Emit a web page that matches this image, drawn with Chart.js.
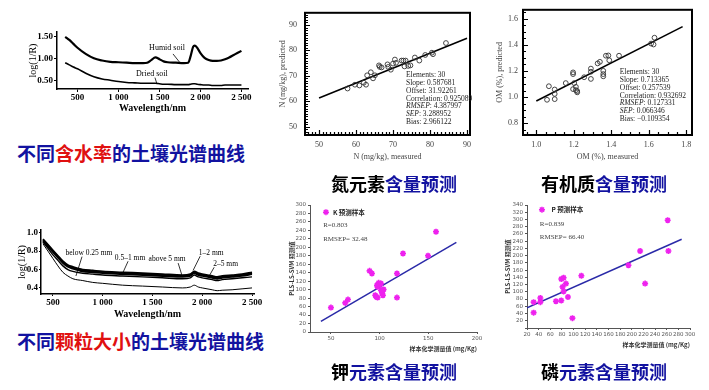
<!DOCTYPE html>
<html>
<head>
<meta charset="utf-8">
<script src="https://cdn.jsdelivr.net/npm/chart.js@4.4.0/dist/chart.umd.min.js"></script>
<style>
  body { margin: 0; background: #fff; width: 709px; height: 390px; position: relative; overflow: hidden; }
  canvas { position: absolute; }
  .cap { position: absolute; font-family: "Noto Sans CJK SC", sans-serif; font-weight: 700; white-space: nowrap; line-height: 1; }
  .blue { color: #1212a0; }
  .red { color: #e01010; }
  .blk { color: #000; }
</style>
</head>
<body>
<canvas id="moist" width="260" height="100" style="left:0;top:20px"></canvas>
<canvas id="nchart" width="210" height="165" style="left:270px;top:0"></canvas>
<canvas id="omchart" width="215" height="165" style="left:490px;top:0"></canvas>
<canvas id="size" width="265" height="110" style="left:0;top:215px"></canvas>
<canvas id="kchart" width="210" height="165" style="left:280px;top:195px"></canvas>
<canvas id="pchart" width="210" height="160" style="left:495px;top:195px"></canvas>

<div class="cap" style="left:17px;top:143px;font-size:19px"><span class="blue">不同</span><span class="red">含水率</span><span class="blue">的土壤光谱曲线</span></div>
<div class="cap" style="left:331px;top:174px;font-size:18px"><span class="blk">氮元素</span><span class="blue">含量预测</span></div>
<div class="cap" style="left:541px;top:174px;font-size:18px"><span class="blk">有机质</span><span class="blue">含量预测</span></div>
<div class="cap" style="left:17px;top:331px;font-size:19px"><span class="blue">不同</span><span class="red">颗粒大小</span><span class="blue">的土壤光谱曲线</span></div>
<div class="cap" style="left:331px;top:362px;font-size:18px"><span class="blk">钾</span><span class="blue">元素含量预测</span></div>
<div class="cap" style="left:541px;top:362px;font-size:18px"><span class="blk">磷</span><span class="blue">元素含量预测</span></div>

<script>
// ---- spectra, soil moisture ----
const moistWl = [350,400,450,500,600,700,800,900,1000,1100,1200,1300,1350,1400,1450,1500,1550,1600,1700,1800,1850,1880,1910,1930,1960,2000,2050,2100,2150,2200,2250,2300,2350,2400,2450,2500];
const humidSoil = [1.49,1.42,1.33,1.24,1.10,1.00,0.95,0.92,0.91,0.90,0.89,0.89,0.90,0.96,1.02,0.98,0.93,0.91,0.90,0.89,0.90,1.05,1.26,1.29,1.24,1.12,1.01,0.96,0.94,0.94,0.95,0.98,1.02,1.07,1.12,1.17];
const driedSoil = [0.90,0.85,0.80,0.76,0.66,0.58,0.53,0.50,0.47,0.45,0.44,0.43,0.43,0.43,0.43,0.42,0.41,0.41,0.40,0.40,0.40,0.41,0.42,0.42,0.41,0.40,0.39,0.39,0.38,0.38,0.38,0.39,0.39,0.39,0.39,0.39];

// ---- spectra, particle size ----
const sizeWl = [400,450,500,550,600,650,700,800,900,1000,1200,1400,1600,1800,1880,1920,1960,2000,2100,2150,2200,2300,2400,2500];
const size12 = [0.93,0.87,0.81,0.75,0.69,0.65,0.63,0.60,0.59,0.58,0.57,0.56,0.55,0.54,0.55,0.58,0.56,0.55,0.53,0.52,0.53,0.54,0.55,0.57];
const size25 = [0.92,0.86,0.80,0.74,0.68,0.64,0.62,0.59,0.58,0.57,0.56,0.55,0.54,0.53,0.54,0.57,0.55,0.54,0.52,0.51,0.52,0.53,0.54,0.56];
const size5 = [0.91,0.85,0.79,0.73,0.67,0.63,0.61,0.58,0.57,0.56,0.55,0.54,0.53,0.52,0.53,0.56,0.54,0.53,0.51,0.50,0.51,0.52,0.53,0.55];
const size051 = [0.90,0.83,0.76,0.70,0.64,0.60,0.58,0.56,0.55,0.54,0.53,0.52,0.51,0.50,0.51,0.54,0.52,0.51,0.49,0.48,0.49,0.50,0.51,0.52];
const size025 = [0.88,0.80,0.72,0.64,0.57,0.53,0.50,0.48,0.46,0.45,0.43,0.42,0.41,0.40,0.41,0.43,0.41,0.40,0.38,0.37,0.375,0.38,0.39,0.40];

const spectraXTicks = [500,1000,1500,2000,2500];
const moistYTicks = [0.5,1.0,1.5];
const sizeYTicks = [0.4,0.6,0.8,1.0];

// ---- N prediction ----
const nMeasured = [57.7,59.7,60.9,62.1,62.7,63.0,64.0,64.6,65.1,66.2,66.4,66.9,68.5,68.7,69.4,70.0,70.5,70.8,72.3,72.8,73.1,73.4,74.1,74.7,75.9,77.1,78.7,80.5,80.8,84.3];
const nPredicted = [65.0,66.5,66.2,67.3,66.5,70.2,71.4,69.0,70.2,74.1,73.5,73.3,74.5,73.5,72.4,74.8,76.4,75.1,76.0,76.0,73.7,76.0,73.9,74.1,77.2,76.0,78.2,79.1,78.5,82.9];
const nFitX = [50, 90];
const nFitY = [61.3, 84.8];
const nTicks = [50,60,70,80,90];
const nStatLabels = ['Elements','Slope','Offset','Correlation','RMSEP','SEP','Bias'];
const nStatValues = ['30','0.587681','31.92261','0.925089','4.387997','3.288952','2.966122'];

// ---- OM prediction ----
const omMeasured = [1.057,1.067,1.098,1.098,1.098,1.157,1.196,1.196,1.196,1.202,1.211,1.211,1.218,1.218,1.255,1.291,1.291,1.291,1.327,1.339,1.357,1.357,1.357,1.371,1.384,1.389,1.441,1.612,1.625,1.630];
const omPredicted = [0.979,1.083,1.058,1.024,0.984,1.107,1.189,1.176,1.061,1.107,1.053,1.078,1.046,1.036,1.152,1.218,1.194,1.139,1.258,1.270,1.201,1.176,1.159,1.317,1.319,1.282,1.317,1.410,1.403,1.455];
const omFitX = [1.0, 1.78];
const omFitY = [0.97, 1.54];
const omXTicks = [1.0,1.2,1.4,1.6,1.8];
const omYTicks = [0.8,1.0,1.2,1.4,1.6];
const omStatValues = ['30','0.713365','0.257539','0.932692','0.127331','0.066346','\u22120.109354'];

// ---- K prediction ----
const kMeasured = [50.0,64.7,67.5,89.7,92.1,95.5,96.6,97.9,97.3,99.0,100.0,101.4,101.4,102.4,103.1,104.1,103.4,117.8,117.8,124.0,149.7,157.9,97.9];
const kPredicted = [57.6,68.7,76.6,144.5,138.2,86.8,82.9,81.3,110.5,116.1,112.1,114.5,98.7,92.4,98.7,100.3,86.8,138.2,81.3,185.5,180.0,236.8,106.6];
const kFitX = [39.7, 178.8];
const kFitY = [25.3, 211.6];
const kXTicks = [50,100,150,200];

// ---- P prediction ----
const pMeasured = [31.4,31.4,42.9,42.9,69.7,78.9,78.9,81.1,82.9,82.9,86.9,90.3,98.0,113.4,194.3,214.3,222.9,261.7,262.9];
const pPredicted = [71.4,42.5,83.1,71.4,74.1,75.9,135.4,113.8,139.0,101.2,122.8,85.8,27.2,144.4,173.3,213.0,122.8,297.7,213.0];
const pFitX = [20, 285.7];
const pFitY = [56, 245.4];

const SERIF = '"Liberation Serif", "DejaVu Serif", serif';
const CJK = '"Noto Sans CJK SC", sans-serif';
const MAGENTA = '#ee22ee';
const NAVY = '#2a2aa8';

Chart.defaults.font.family = SERIF;
Chart.defaults.animation = false;
Chart.defaults.plugins.legend.display = false;
Chart.defaults.plugins.tooltip.enabled = false;

const pts = (xs, ys) => xs.map((x, i) => ({ x: x, y: ys[i] }));
const thousands = v => v >= 1000 ? String(v).replace(/(\d)(\d{3})$/, '$1 $2') : String(v);
const fixedTicks = vals => s => { s.ticks = vals.map(v => ({ value: v })); };

function drawStar(ctx, cx, cy, r) {
  ctx.beginPath();
  for (let k = 0; k < 4; k++) {
    const a = k * Math.PI / 4;
    ctx.moveTo(cx - r * Math.cos(a), cy - r * Math.sin(a));
    ctx.lineTo(cx + r * Math.cos(a), cy + r * Math.sin(a));
  }
  ctx.stroke();
}

// box with inward minor ticks (N / OM panels)
const frameTicks = {
  id: 'frameTicks',
  afterDatasetsDraw(chart, args, o) {
    if (!o || !o.xStep) return;
    const { ctx, chartArea: a, scales: { x, y } } = chart;
    ctx.save();
    ctx.strokeStyle = '#000';
    ctx.lineWidth = 2;
    ctx.strokeRect(a.left, a.top, a.right - a.left, a.bottom - a.top);
    ctx.lineWidth = 1.2;
    ctx.beginPath();
    for (let k = Math.ceil(x.min / o.xStep - 1e-9); k * o.xStep <= x.max + 1e-9; k++) {
      const px = Math.round(x.getPixelForValue(k * o.xStep)) + 0.5;
      const len = k % o.every === 0 ? 5 : 3;
      ctx.moveTo(px, a.bottom); ctx.lineTo(px, a.bottom - len);
    }
    for (let k = Math.ceil(y.min / o.yStep - 1e-9); k * o.yStep <= y.max + 1e-9; k++) {
      const py = Math.round(y.getPixelForValue(k * o.yStep)) + 0.5;
      const len = k % o.every === 0 ? 5 : 3;
      ctx.moveTo(a.left, py); ctx.lineTo(a.left + len, py);
    }
    ctx.stroke();
    ctx.restore();
  }
};

// text notes, leader lines, stat blocks, legend star
const notes = {
  id: 'notes',
  afterDatasetsDraw(chart, args, o) {
    if (!o) return;
    const { ctx, scales: { x, y } } = chart;
    ctx.save();
    ctx.textBaseline = 'middle';
    ctx.strokeStyle = '#000';
    ctx.lineWidth = 0.8;
    (o.lines || []).forEach(l => {
      ctx.beginPath();
      ctx.moveTo(x.getPixelForValue(l[0]), y.getPixelForValue(l[1]));
      ctx.lineTo(x.getPixelForValue(l[2]), y.getPixelForValue(l[3]));
      ctx.stroke();
    });
    (o.texts || []).forEach(t => {
      ctx.font = t.font;
      ctx.fillStyle = t.color || '#000';
      ctx.textAlign = t.align || 'left';
      ctx.fillText(t.text, x.getPixelForValue(t.x), y.getPixelForValue(t.y));
    });
    if (o.stats) {
      const s = o.stats;
      const px = x.getPixelForValue(s.x), py = y.getPixelForValue(s.y);
      ctx.fillStyle = '#222';
      ctx.textAlign = 'left';
      s.labels.forEach((lab, i) => {
        ctx.font = (s.italic.includes(lab) ? 'italic ' : '') + s.font;
        ctx.fillText(lab, px, py + i * s.gap);
        const w = ctx.measureText(lab).width;
        ctx.font = s.font;
        ctx.fillText(': ' + s.values[i], px + w, py + i * s.gap);
      });
    }
    if (o.star) {
      ctx.strokeStyle = MAGENTA;
      ctx.lineWidth = 1.5;
      drawStar(ctx, x.getPixelForValue(o.star.x), y.getPixelForValue(o.star.y), 3);
    }
    ctx.restore();
  }
};
Chart.register(frameTicks, notes);

// ---------- panel 1: moisture spectra ----------
new Chart(document.getElementById('moist'), {
  type: 'line',
  data: {
    datasets: [
      { data: pts(moistWl, humidSoil), borderColor: '#000', borderWidth: 2.2, pointRadius: 0, cubicInterpolationMode: 'monotone' },
      { data: pts(moistWl, driedSoil), borderColor: '#000', borderWidth: 1.6, pointRadius: 0, cubicInterpolationMode: 'monotone' }
    ]
  },
  options: {
    responsive: false,
    layout: { padding: { top: 12, right: 12, left: 0, bottom: 0 } },
    plugins: {
      notes: {
        texts: [
          { text: 'Humid soil', x: 1592, y: 1.23, align: 'center', font: '8px ' + SERIF },
          { text: 'Dried soil', x: 1408, y: 0.64, align: 'center', font: '8px ' + SERIF }
        ],
        lines: [[1665, 1.10, 1750, 0.90], [1445, 0.56, 1470, 0.41]]
      }
    },
    scales: {
      x: {
        type: 'linear', min: 250, max: 2580,
        afterBuildTicks: fixedTicks(spectraXTicks),
        afterFit: s => { s.height = 31; },
        border: { color: '#000', width: 1.5 },
        grid: { drawOnChartArea: false, tickLength: 3, color: '#000' },
        ticks: { padding: 0, color: '#000', autoSkip: false, maxRotation: 0, font: { size: 9, weight: 'bold' }, callback: v => thousands(v) },
        title: { display: true, text: 'Wavelength/nm', color: '#000', font: { size: 10, weight: 'bold' }, padding: { top: 0, bottom: 6 } }
      },
      y: {
        min: 0.3, max: 1.6,
        afterBuildTicks: fixedTicks(moistYTicks),
        afterFit: s => { s.width = 57; },
        border: { color: '#000', width: 1.5 },
        grid: { drawOnChartArea: false, tickLength: 3, color: '#000' },
        ticks: { padding: 1, color: '#000', font: { size: 9, weight: 'bold' }, callback: v => v.toFixed(2) },
        title: { display: true, text: 'log(1/R)', color: '#000', font: { size: 10 }, padding: { top: 27, bottom: 0 } }
      }
    }
  }
});

// ---------- panel 4: particle size spectra ----------
const sizeLine = (vals, w) => ({ data: pts(sizeWl, vals), borderColor: '#000', borderWidth: w, pointRadius: 0, cubicInterpolationMode: 'monotone' });
new Chart(document.getElementById('size'), {
  type: 'line',
  data: {
    datasets: [sizeLine(size12, 1.8), sizeLine(size25, 1.8), sizeLine(size5, 1.8), sizeLine(size051, 1.4), sizeLine(size025, 1)]
  },
  options: {
    responsive: false,
    layout: { padding: { top: 15, right: 11, left: 0, bottom: 0 } },
    plugins: {
      notes: {
        texts: [
          { text: 'below 0.25 mm', x: 862, y: 0.775, align: 'center', font: '7.5px ' + SERIF },
          { text: '0.5\u20131 mm', x: 1275, y: 0.73, align: 'center', font: '7.5px ' + SERIF },
          { text: 'above 5 mm', x: 1647, y: 0.71, align: 'center', font: '7.5px ' + SERIF },
          { text: '1\u20132 mm', x: 2090, y: 0.78, align: 'center', font: '7.5px ' + SERIF },
          { text: '2\u20135 mm', x: 2235, y: 0.655, align: 'center', font: '7.5px ' + SERIF }
        ],
        lines: [[792, 0.74, 731, 0.53], [1255, 0.69, 1194, 0.545], [1758, 0.67, 1798, 0.53], [1979, 0.745, 1908, 0.59], [2120, 0.625, 2070, 0.53]]
      }
    },
    scales: {
      x: {
        type: 'linear', min: 380, max: 2520,
        afterBuildTicks: fixedTicks(spectraXTicks),
        afterFit: s => { s.height = 31; },
        border: { color: '#000', width: 1.5 },
        grid: { drawOnChartArea: false, tickLength: 2, color: '#000' },
        ticks: { padding: 1, color: '#000', autoSkip: false, maxRotation: 0, font: { size: 9, weight: 'bold' }, callback: v => thousands(v) },
        title: { display: true, text: 'Wavelength/nm', color: '#000', font: { size: 10, weight: 'bold' }, padding: { top: 0, bottom: 5 } }
      },
      y: {
        min: 0.334, max: 1.03,
        afterBuildTicks: fixedTicks(sizeYTicks),
        afterFit: s => { s.width = 41; },
        border: { color: '#000', width: 1.5 },
        grid: { drawOnChartArea: false, tickLength: 2, color: '#000' },
        ticks: { padding: 1, color: '#000', font: { size: 9, weight: 'bold' }, callback: v => v.toFixed(1) },
        title: { display: true, text: 'log(1/R)', color: '#000', font: { size: 10 }, padding: { top: 16, bottom: 0 } }
      }
    }
  }
});

// ---------- panels 2 & 3: N / OM predicted vs measured ----------
function boxScatter(id, xs, ys, fx, fy, cfg) {
  new Chart(document.getElementById(id), {
    type: 'scatter',
    data: {
      datasets: [
        { data: pts(xs, ys), pointStyle: 'circle', pointRadius: 2.4, borderWidth: 0.9, borderColor: '#333', backgroundColor: 'rgba(0,0,0,0)' },
        { type: 'line', data: pts(fx, fy), borderColor: '#000', borderWidth: 1.6, pointRadius: 0 }
      ]
    },
    options: {
      responsive: false,
      layout: { padding: { top: 5, right: cfg.padRight, left: 0, bottom: 0 } },
      plugins: {
        frameTicks: { xStep: cfg.xStep, yStep: cfg.yStep, every: cfg.every },
        notes: { stats: { x: cfg.statX, y: cfg.statY, gap: 7.8, font: '7.5px ' + SERIF, labels: nStatLabels, values: cfg.statValues, italic: ['RMSEP', 'SEP'] } }
      },
      scales: {
        x: {
          type: 'linear', min: cfg.xMin, max: cfg.xMax,
          afterBuildTicks: fixedTicks(cfg.xTicks),
          afterFit: s => { s.height = 30; },
          border: { display: false },
          grid: { display: false, drawTicks: false },
          ticks: { padding: 5, color: '#444', autoSkip: false, maxRotation: 0, font: { size: 8 }, callback: cfg.fmt },
          title: { display: true, text: cfg.xTitle, color: '#444', font: { size: 8 }, padding: { top: 0, bottom: 3 } }
        },
        y: {
          min: cfg.yMin, max: cfg.yMax,
          afterBuildTicks: fixedTicks(cfg.yTicks),
          afterFit: s => { s.width = cfg.yWidth; },
          border: { display: false },
          grid: { display: false, drawTicks: false },
          ticks: { padding: cfg.yPad, color: '#444', font: { size: 8 }, callback: cfg.fmt },
          title: { display: true, text: cfg.yTitle, color: '#444', font: { size: 8 }, padding: { top: cfg.yTitlePad, bottom: 0 } }
        }
      }
    }
  });
}

boxScatter('nchart', nMeasured, nPredicted, nFitX, nFitY, {
  xMin: 46.2, xMax: 90.8, yMin: 46.7, yMax: 94.8, xTicks: nTicks, yTicks: nTicks,
  xStep: 1, yStep: 1, every: 10, padRight: 10, yWidth: 35, yPad: 8, yTitlePad: 8,
  fmt: v => String(v), xTitle: 'N (mg/kg), measured', yTitle: 'N (mg/kg), predicted',
  statX: 73.5, statY: 70.2, statValues: nStatValues
});

boxScatter('omchart', omMeasured, omPredicted, omFitX, omFitY, {
  xMin: 0.929, xMax: 1.83, yMin: 0.709, yMax: 1.669, xTicks: omXTicks, yTicks: omYTicks,
  xStep: 0.05, yStep: 0.05, every: 4, padRight: 13, yWidth: 33, yPad: 5, yTitlePad: 5,
  fmt: v => v.toFixed(1), xTitle: 'OM (%), measured', yTitle: 'OM (%), predicted',
  statX: 1.445, statY: 1.19, statValues: omStatValues
});

// ---------- panels 5 & 6: K / P prediction ----------
function starScatter(id, xs, ys, fx, fy, cfg) {
  new Chart(document.getElementById(id), {
    type: 'scatter',
    data: {
      datasets: [
        { data: pts(xs, ys), pointStyle: 'star', pointRadius: 3, borderWidth: 1.6, borderColor: MAGENTA, backgroundColor: MAGENTA },
        { type: 'line', data: pts(fx, fy), borderColor: NAVY, borderWidth: 1.5, pointRadius: 0 }
      ]
    },
    options: {
      responsive: false,
      layout: { padding: { top: 10, right: cfg.padRight, left: 0, bottom: 0 } },
      plugins: {
        notes: {
          star: { x: cfg.legX, y: cfg.legY },
          texts: [
            { text: cfg.legText, x: cfg.legTextX, y: cfg.legY, font: 'bold 6.5px ' + CJK, color: '#222' },
            { text: cfg.rText, x: cfg.infoX, y: cfg.rY, font: '7px ' + SERIF, color: '#444' },
            { text: cfg.rmsepText, x: cfg.infoX, y: cfg.rmsepY, font: '7px ' + SERIF, color: '#444' }
          ]
        }
      },
      scales: {
        x: {
          type: 'linear', min: cfg.xMin, max: cfg.xMax,
          afterBuildTicks: cfg.xTicks ? fixedTicks(cfg.xTicks) : undefined,
          afterFit: s => { s.height = cfg.xHeight; },
          border: { color: '#555', width: 1 },
          grid: { drawOnChartArea: false, tickLength: 2, color: '#555' },
          ticks: { stepSize: cfg.xStep, padding: 1, color: '#555', autoSkip: false, maxRotation: 0, font: { size: 5.5, family: 'DejaVu Sans' } },
          title: { display: true, text: '样本化学测量值 (mg/Kg)', align: 'end', color: '#333', font: { size: 6, family: CJK, weight: 'bold' }, padding: { top: 0, bottom: cfg.xTitlePad } }
        },
        y: {
          min: 0, max: cfg.yMax,
          afterFit: s => { s.width = cfg.yWidth; },
          border: { color: '#555', width: 1 },
          grid: { drawOnChartArea: false, tickLength: 2, color: '#555' },
          ticks: { stepSize: 20, autoSkip: false, padding: 2, color: '#555', font: { size: 5.5, family: 'DejaVu Sans' }, callback: v => (cfg.hideZero && v === 0) ? '' : String(v) },
          title: { display: true, text: 'PLS-LS-SVM 预测值', color: '#333', font: { size: 6, family: CJK, weight: 'bold' }, padding: { top: cfg.yTitlePad, bottom: 0 } }
        }
      }
    }
  });
}

starScatter('kchart', kMeasured, kPredicted, kFitX, kFitY, {
  xMin: 28.5, xMax: 200, xTicks: kXTicks, yMax: 300, padRight: 13, xHeight: 28, yWidth: 30,
  xTitlePad: 8, yTitlePad: 8, hideZero: false,
  legX: 44.9, legY: 283, legTextX: 52, legText: 'K 预测样本',
  infoX: 42, rY: 253, rmsepY: 220, rText: 'R=0.803', rmsepText: 'RMSEP= 32.48'
});

starScatter('pchart', pMeasured, pPredicted, pFitX, pFitY, {
  xMin: 20, xMax: 300, xStep: 20, yMax: 340, padRight: 15, xHeight: 27, yWidth: 32,
  xTitlePad: 7, yTitlePad: 9, hideZero: true,
  legX: 45.7, legY: 327, legTextX: 62, legText: 'P 预测样本',
  infoX: 42, rY: 286, rmsepY: 251, rText: 'R=0.839', rmsepText: 'RMSEP= 66.40'
});
</script>
</body>
</html>
